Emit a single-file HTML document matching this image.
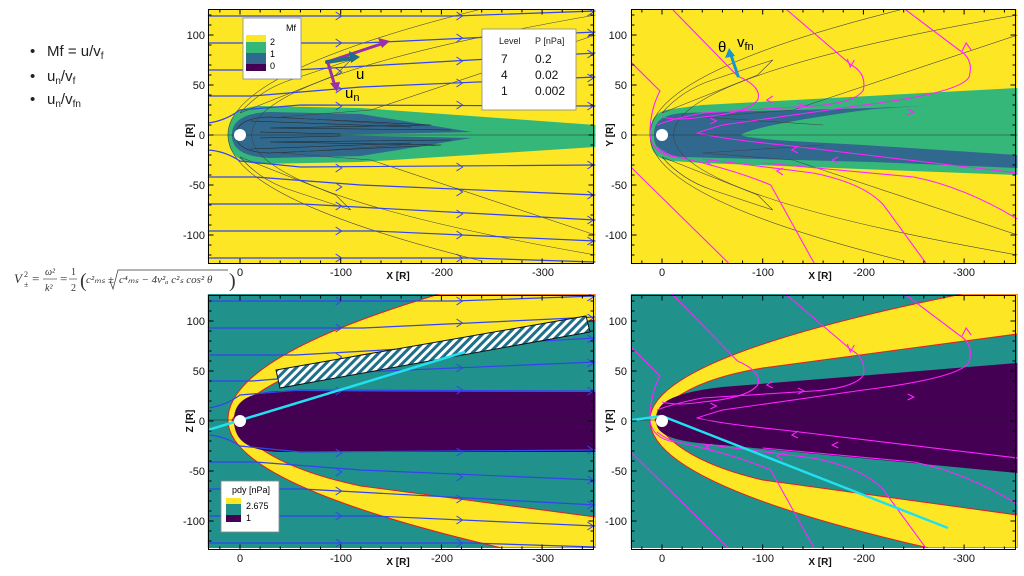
<!DOCTYPE html>
<html><head><meta charset="utf-8">
<style>
html,body{margin:0;padding:0;background:#fff;}
body{width:1024px;height:576px;overflow:hidden;position:relative;font-family:"Liberation Sans",sans-serif;}
svg{position:absolute;left:0;top:0;}
</style></head>
<body>
<svg width="1024" height="576" viewBox="0 0 1024 576" font-family="Liberation Sans, sans-serif">
<defs>
<clipPath id="cL"><rect x="-32" y="-126" width="385" height="254"/></clipPath>
<clipPath id="cR"><rect x="-31" y="-126" width="384" height="254"/></clipPath>
<pattern id="hatch" width="6" height="6" patternUnits="userSpaceOnUse" patternTransform="rotate(45)">
<rect width="6" height="6" fill="#fff"/><rect width="3" height="6" fill="#1f6f8b"/></pattern>
<g id="stream" fill="none" stroke="#3344ee" stroke-width="1.2">
<path d="M-32,-119 L213,-119 L353,-124"/>
<path d="M-32,-92 L122,-92 L353,-103"/>
<path d="M-32,-65 L55,-65 L353,-82"/>
<path d="M-32,-39 L12,-39 L120,-48 L353,-58"/>
<path d="M-32,-12 Q-15,-14 0,-25 L60,-30 L353,-29"/>
<path d="M-32,15 Q-15,16 0,26 L60,32 L353,30"/>
<path d="M-32,42 L15,42 L120,50 L353,60"/>
<path d="M-32,69 L62,69 L353,85"/>
<path d="M-32,96 L133,96 L353,106"/>
<path d="M-32,123 L228,123 L353,127"/>
<g stroke-width="1">
<polyline points="95,-123 101,-119 95,-115"/><polyline points="215,-123 221,-119 215,-115"/>
<polyline points="95,-96 101,-92 95,-88"/><polyline points="215,-101 221,-97 215,-93"/>
<polyline points="95,-67 101,-63 95,-59"/><polyline points="215,-78 221,-74 215,-70"/>
<polyline points="95,-50 101,-46 95,-42"/><polyline points="215,-56 221,-52 215,-48"/>
<polyline points="95,-33 101,-29 95,-25"/><polyline points="215,-34 221,-30 215,-26"/>
<polyline points="95,29 101,33 95,37"/><polyline points="215,28 221,32 215,36"/>
<polyline points="95,48 101,52 95,56"/><polyline points="215,53 221,57 215,61"/>
<polyline points="95,67 101,71 95,75"/><polyline points="215,75 221,79 215,83"/>
<polyline points="95,92 101,96 95,100"/><polyline points="215,96 221,100 215,104"/>
<polyline points="95,119 101,123 95,127"/><polyline points="215,119 221,123 215,127"/>
<polyline points="345,-127 351,-123 345,-119"/><polyline points="345,-106 351,-102 345,-98"/>
<polyline points="345,-85 351,-81 345,-77"/><polyline points="345,-61 351,-57 345,-53"/>
<polyline points="345,-33 351,-29 345,-25"/><polyline points="345,26 351,30 345,34"/>
<polyline points="345,56 351,60 345,64"/><polyline points="345,81 351,85 345,89"/>
<polyline points="345,102 351,106 345,110"/>
</g></g>
<g id="mag" fill="none" stroke="#ff22ff" stroke-width="1.1">
<path d="M10,-126 L75,-59 Q100,-48 95,-35 Q85,-22 40,-18 Q15,-14 0,-18"/>
<path d="M123,-126 L188,-70 Q203,-62 200,-45 Q192,-32 150,-29 L40,-22 Q10,-16 -5,-10"/>
<path d="M241,-126 L295,-85 Q310,-76 305,-58 Q296,-42 200,-30 L60,-10 Q40,-4 35,-2 Q60,4 120,10 L353,38"/>
<path d="M-31,-73 L-2,-44 Q-12,-25 -12,0 Q-10,18 12,22"/>
<path d="M-31,32 L66,128"/>
<path d="M-5,12 Q5,20 15,22 Q70,34 108,50 L151,128"/>
<path d="M40,24 L150,38 Q200,48 220,70 L262,128"/>
<path d="M100,28 L250,42 Q300,52 353,84"/>
<polyline points="110,-39 104,-35 110,-32" /><polyline points="135,-32 141,-29 135,-26"/>
<polyline points="244,-26 250,-23 244,-20"/><polyline points="184,-76 187,-68 191,-75"/>
<polyline points="298,-84 302,-92 307,-85"/><polyline points="48,-17 54,-14 48,-11"/>
<polyline points="135,11 129,15 135,18"/><polyline points="175,22 169,25 175,28"/>
<polyline points="120,33 114,36 120,40"/><polyline points="50,24 44,27 50,31"/>
</g>
<g id="shock" fill="none" stroke="#444" stroke-width="0.6">
<path d="M240,-126 Q-264,0 240,126"/>
<path d="M353,-120 Q-330,0 353,120"/>
<path d="M0,-22 L95,-60 L110,-75 L50,-55 Q20,-45 0,-22"/>
<path d="M0,22 L95,60 L110,75 L50,55 Q20,45 0,22"/>
<path d="M160,-10 L40,-18 L130,-25 L353,-100"/>
<path d="M160,10 L40,18 L130,25 L353,100"/>
</g>
</defs>

<!-- TOP LEFT -->
<g transform="translate(240,135) scale(1.007,1)" clip-path="url(#cL)">
<rect x="-40" y="-130" width="400" height="260" fill="#fde725"/>
<path d="M-12,0 C-12,-20 0,-28 20,-29 L120,-27 L353,-10 L353,12 L120,27 L20,29 C0,28 -12,20 -12,0Z" fill="#35b779"/>
<path d="M-8,0 C-8,-15 5,-22 30,-23 L120,-21 L230,-3 L230,3 L120,21 L30,23 C5,22 -8,15 -8,0Z" fill="#31688e"/>
<path d="M85,0 L230,-3 L230,3Z" fill="#35b779"/>
<g fill="none" stroke="#222" stroke-width="0.5">
<path d="M-4,0 C-4,-12 10,-18 30,-18 L190,-10 L30,-7 L210,-5"/>
<path d="M-4,0 C-4,12 10,18 30,18 L200,10 L30,7 L210,5"/>
<path d="M10,-14 L170,-8 M10,14 L170,8 M20,-3 L100,-1 M20,3 L100,1"/>
</g>
<use href="#shock"/>
<use href="#stream"/>
<line x1="-40" y1="0" x2="360" y2="0" stroke="#333" stroke-width="0.6"/>
</g>
<rect x="208.5" y="9.5" width="385" height="254" fill="none" stroke="#000"/>

<!-- TOP RIGHT -->
<g transform="translate(662,135) scale(1.007,1)" clip-path="url(#cR)">
<rect x="-40" y="-130" width="400" height="260" fill="#fde725"/>
<path d="M-12,0 C-12,-18 -5,-24 10,-26 L40,-30 L353,-47 L353,40 L40,28 L10,26 C-5,24 -12,18 -12,0Z" fill="#35b779"/>
<path d="M-8,0 C-8,-14 0,-20 20,-22 L210,-27 L353,-33 L353,33 L210,27 L20,22 C0,20 -8,14 -8,0Z" fill="#31688e"/>
<path d="M78,0 C90,-8 150,-18 210,-26 L353,-35 L353,20 L200,10 C150,7 90,5 78,0Z" fill="#35b779"/>
<use href="#shock"/>
<use href="#mag"/>
<line x1="-40" y1="0" x2="360" y2="0" stroke="#333" stroke-width="0.6"/>
</g>
<rect x="631.5" y="9.5" width="384" height="254" fill="none" stroke="#000"/>

<!-- BOTTOM LEFT -->
<g transform="translate(240,420) scale(1.007,1)" clip-path="url(#cL)">
<rect x="-40" y="-130" width="400" height="260" fill="#21918c"/>
<path d="M198,-126 Q-12,-63 -12,0 Q-12,64 260,128 L353,128 L353,-126Z" fill="#fde725" stroke="#e02020" stroke-width="1"/>
<path d="M353,-100 L120,-65 Q20,-45 -8,0 Q20,45 120,66 L353,97Z" fill="#21918c" stroke="#e02020" stroke-width="1"/>
<path d="M353,-28 L40,-29 C10,-28 -6,-20 -6,0 C-6,22 10,31 40,32 L353,32Z" fill="#440154"/>
<use href="#stream"/>
<line x1="-40" y1="0" x2="360" y2="0" stroke="#222" stroke-width="0.6"/>
</g>
<polygon points="276,370 586,316 590,332 280,388" fill="url(#hatch)" stroke="#111" stroke-width="1"/>
<line x1="208" y1="430" x2="465" y2="352" stroke="#22e0f0" stroke-width="2.5"/>
<rect x="208.5" y="295.5" width="385" height="254" fill="none" stroke="#000"/>

<!-- BOTTOM RIGHT -->
<g transform="translate(662,420) scale(1.007,1)" clip-path="url(#cR)">
<rect x="-40" y="-130" width="400" height="260" fill="#21918c"/>
<path d="M298,-126 Q-12,-63 -12,0 Q-12,64 265,128 L353,128 L353,-126Z" fill="#fde725" stroke="#e02020" stroke-width="1"/>
<path d="M353,-86 L100,-52 Q15,-38 -7,0 Q15,40 100,60 L353,95Z" fill="#21918c" stroke="#e02020" stroke-width="1"/>
<path d="M353,-57 L60,-33 C10,-27 -6,-18 -6,0 C-6,15 10,22 60,25 L353,53Z" fill="#440154"/>
<use href="#mag"/>
<line x1="-40" y1="0" x2="360" y2="0" stroke="#222" stroke-width="0.6"/>
</g>
<polyline points="632,420 662,416 948,528" fill="none" stroke="#22e0f0" stroke-width="2.5"/>
<rect x="631.5" y="295.5" width="384" height="254" fill="none" stroke="#000"/>

<!-- planets -->
<circle cx="240" cy="135" r="6" fill="#fff"/><circle cx="662" cy="135" r="6" fill="#fff"/>
<circle cx="240" cy="421" r="6" fill="#fff"/><circle cx="662" cy="421" r="6" fill="#fff"/>

<g id="ticks" stroke="#000" stroke-width="1"></g>

<!-- axis labels -->
<g font-size="11" fill="#111" text-anchor="end">
<text x="205" y="39">100</text><text x="205" y="89">50</text><text x="205" y="139">0</text><text x="205" y="189">-50</text><text x="205" y="239">-100</text>
<text x="205" y="325">100</text><text x="205" y="375">50</text><text x="205" y="425">0</text><text x="205" y="475">-50</text><text x="205" y="525">-100</text>
<text x="627" y="39">100</text><text x="627" y="89">50</text><text x="627" y="139">0</text><text x="627" y="189">-50</text><text x="627" y="239">-100</text>
<text x="627" y="325">100</text><text x="627" y="375">50</text><text x="627" y="425">0</text><text x="627" y="475">-50</text><text x="627" y="525">-100</text>
</g>
<g font-size="11" fill="#111" text-anchor="middle">
<text x="240" y="276">0</text><text x="341" y="276">-100</text><text x="442" y="276">-200</text><text x="543" y="276">-300</text>
<text x="240" y="562">0</text><text x="341" y="562">-100</text><text x="442" y="562">-200</text><text x="543" y="562">-300</text>
<text x="662" y="276">0</text><text x="763" y="276">-100</text><text x="864" y="276">-200</text><text x="964" y="276">-300</text>
<text x="662" y="562">0</text><text x="763" y="562">-100</text><text x="864" y="562">-200</text><text x="964" y="562">-300</text>
<g font-weight="bold" font-size="10">
<text x="398" y="279">X [R]</text><text x="398" y="565">X [R]</text>
<text x="820" y="279">X [R]</text><text x="820" y="565">X [R]</text>
<text transform="translate(193,135) rotate(-90)">Z [R]</text>
<text transform="translate(193,421) rotate(-90)">Z [R]</text>
<text transform="translate(613,135) rotate(-90)">Y [R]</text>
<text transform="translate(613,421) rotate(-90)">Y [R]</text>
</g></g>

<!-- Mf legend -->
<rect x="243" y="18" width="58" height="61" fill="#fff" stroke="#888" stroke-width="0.8"/>
<text x="296" y="31" font-size="9" text-anchor="end">Mf</text>
<rect x="246" y="35" width="20" height="7" fill="#fde725"/>
<rect x="246" y="42" width="20" height="11" fill="#35b779"/>
<rect x="246" y="53" width="20" height="11" fill="#31688e"/>
<rect x="246" y="64" width="20" height="7" fill="#440154"/>
<g font-size="9"><text x="270" y="45">2</text><text x="270" y="57">1</text><text x="270" y="69">0</text></g>

<!-- arrows -->
<g stroke-linecap="round">
<line x1="327" y1="62" x2="384" y2="43" stroke="#9b2fa8" stroke-width="3"/>
<polygon points="390,41 378,38 382,48" fill="#9b2fa8"/>
<line x1="327" y1="62" x2="352" y2="58" stroke="#1f6f8b" stroke-width="4"/>
<polygon points="360,57 349,51 351,63" fill="#1f6f8b"/>
<line x1="328" y1="63" x2="335" y2="86" stroke="#9b2fa8" stroke-width="3"/>
<polygon points="337,92 330,83 340,82" fill="#9b2fa8"/>
<line x1="738" y1="76" x2="731" y2="55" stroke="#1b95d0" stroke-width="3"/>
<polygon points="729,48 725,58 735,56" fill="#1b95d0"/>
</g>
<text x="356" y="79" font-size="15">u</text>
<text x="345" y="98" font-size="15">u<tspan font-size="11" dy="3">n</tspan></text>
<text x="718" y="52" font-size="15">θ</text>
<text x="737" y="47" font-size="15">v<tspan font-size="11" dy="3">fn</tspan></text>

<!-- level table -->
<rect x="482" y="29" width="94" height="81" fill="#fff" stroke="#888" stroke-width="0.8"/>
<g font-size="9" fill="#222"><text x="499" y="44">Level</text><text x="535" y="44">P [nPa]</text></g>
<g font-size="12" fill="#111"><text x="501" y="63">7</text><text x="535" y="63">0.2</text>
<text x="501" y="79">4</text><text x="535" y="79">0.02</text>
<text x="501" y="95">1</text><text x="535" y="95">0.002</text></g>

<!-- pdy legend -->
<rect x="221" y="481" width="58" height="51" fill="#fff" stroke="#888" stroke-width="0.8"/>
<text x="232" y="493" font-size="9">pdy [nPa]</text>
<rect x="226" y="498" width="15" height="6" fill="#fde725"/>
<rect x="226" y="504" width="15" height="11" fill="#21918c"/>
<rect x="226" y="515" width="15" height="7" fill="#440154"/>
<g font-size="9"><text x="246" y="509">2.675</text><text x="246" y="521">1</text></g>

<!-- left bullets -->
<g font-size="15" fill="#222">
<text x="30" y="56">•</text><text x="47" y="56">Mf = u/v<tspan font-size="10" dy="3">f</tspan></text>
<text x="30" y="81">•</text><text x="47" y="81">u<tspan font-size="10" dy="3">n</tspan><tspan dy="-3">/v</tspan><tspan font-size="10" dy="3">f</tspan></text>
<text x="30" y="104">•</text><text x="47" y="104">u<tspan font-size="10" dy="3">n</tspan><tspan dy="-3">/v</tspan><tspan font-size="10" dy="3">fn</tspan></text>
</g>
<g font-family="Liberation Serif, serif" font-size="13" fill="#333">
<text x="14" y="283" font-style="italic">V</text><text x="24" y="277" font-size="8">2</text><text x="24" y="287" font-size="8">±</text>
<text x="32" y="283">=</text>
<text x="45" y="275" font-style="italic" font-size="10">ω²</text><line x1="43" y1="279" x2="57" y2="279" stroke="#333" stroke-width="0.6"/><text x="45" y="291" font-style="italic" font-size="10">k²</text>
<text x="60" y="283">=</text>
<text x="71" y="275" font-size="10">1</text><line x1="69" y1="279" x2="77" y2="279" stroke="#333" stroke-width="0.6"/><text x="71" y="291" font-size="10">2</text>
<text x="80" y="287" font-size="20">(</text>
<text x="86" y="283" font-style="italic" font-size="11">c²ₘₛ ±</text>
<path d="M110,281 L113,289 L118,270 L228,270" fill="none" stroke="#333" stroke-width="0.7"/>
<text x="119" y="283" font-style="italic" font-size="11">c⁴ₘₛ − 4v²ₐ c²ₛ cos² θ</text>
<text x="229" y="287" font-size="20">)</text>
</g>
</svg>
<script>
(function(){
var g=document.getElementById('ticks'),s='';
function L(x1,y1,x2,y2){s+='<line x1="'+x1+'" y1="'+y1+'" x2="'+x2+'" y2="'+y2+'"/>';}
var P=[[240,135,208.5,593.5,9.5,263.5],[240,421,208.5,593.5,295.5,549.5],[662,135,631.5,1015.5,9.5,263.5],[662,421,631.5,1015.5,295.5,549.5]];
P.forEach(function(p){
 for(var d=-20;d<=340;d+=20){var x=p[0]+d*1.007;if(x<p[2]||x>p[3])continue;var len=(d%100==0)?5:3;L(x,p[4],x,p[4]+len);L(x,p[5],x,p[5]-len);}
 for(var y=-120;y<=120;y+=10){var yy=p[1]-y;if(yy<p[4]||yy>p[5])continue;var len=(y%50==0)?5:3;L(p[2],yy,p[2]+len,yy);L(p[3],yy,p[3]-len,yy);}
});
g.innerHTML=s;
})();
</script>
</body></html>
